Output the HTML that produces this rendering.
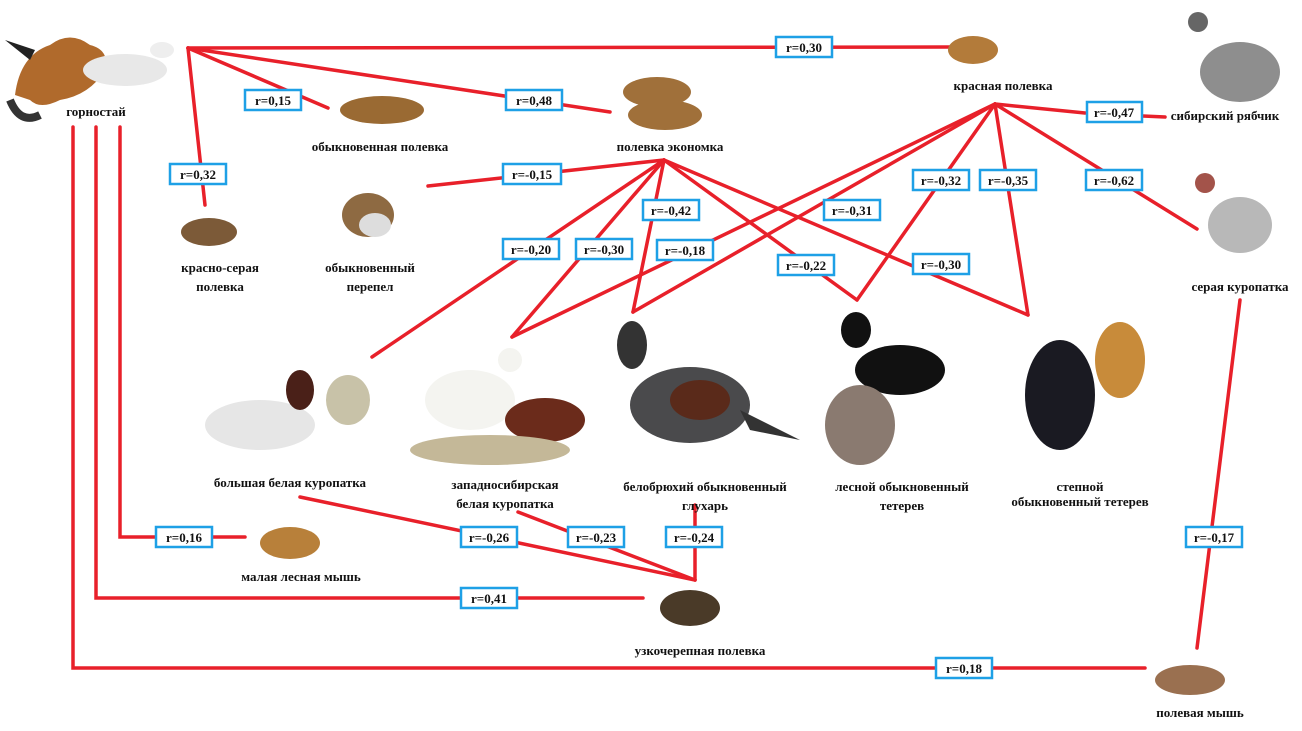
<!DOCTYPE html>
<html><head><meta charset="utf-8"><style>
html,body{margin:0;padding:0;background:#fff;width:1302px;height:731px;overflow:hidden}
svg{display:block}
text{font-family:"Liberation Serif","Noto Serif CJK SC",serif;font-weight:bold;font-size:13px;fill:#111}
.b text{font-size:14px}
</style></head><body>
<svg width="1302" height="731" viewBox="0 0 1302 731" xmlns="http://www.w3.org/2000/svg">
<g stroke="#e8202a" stroke-width="3.5" fill="none" stroke-linecap="round">
<line x1="188" y1="48" x2="950" y2="47"/>
<line x1="188" y1="48" x2="328" y2="108"/>
<line x1="188" y1="48" x2="610" y2="112"/>
<line x1="188" y1="48" x2="205" y2="205"/>
<polyline points="120,127 120,537 245,537"/>
<polyline points="96,127 96,598 643,598"/>
<polyline points="73,127 73,668 1145,668"/>
<line x1="664" y1="160" x2="428" y2="186"/>
<line x1="664" y1="160" x2="372" y2="357"/>
<line x1="664" y1="160" x2="512" y2="337"/>
<line x1="664" y1="160" x2="633" y2="312"/>
<line x1="664" y1="160" x2="857" y2="300"/>
<line x1="664" y1="160" x2="1028" y2="315"/>
<line x1="995" y1="104" x2="512" y2="337"/>
<line x1="995" y1="104" x2="633" y2="312"/>
<line x1="995" y1="104" x2="857" y2="300"/>
<line x1="995" y1="104" x2="1028" y2="315"/>
<line x1="995" y1="104" x2="1197" y2="229"/>
<line x1="995" y1="104" x2="1085" y2="113"/>
<line x1="1142" y1="116" x2="1165" y2="117"/>
<line x1="300" y1="497" x2="695" y2="580"/>
<line x1="518" y1="512" x2="695" y2="580"/>
<line x1="695" y1="505" x2="695" y2="580"/>
<line x1="1240" y1="300" x2="1197" y2="648"/>
</g>
<!-- animals -->
<g>
<path d="M15 95 Q20 55 50 45 Q70 30 90 45 Q110 50 105 70 Q90 95 60 100 Q40 110 30 100Z" fill="#b06a2c"/>
<path d="M5 40 L35 50 L30 60 Z" fill="#222"/>
<path d="M10 100 Q20 125 40 115" stroke="#333" stroke-width="8" fill="none"/>
<ellipse cx="125" cy="70" rx="42" ry="16" fill="#e8e8e8"/>
<ellipse cx="162" cy="50" rx="12" ry="8" fill="#eee"/>
<ellipse cx="973" cy="50" rx="25" ry="14" fill="#b37b3a"/>
<ellipse cx="382" cy="110" rx="42" ry="14" fill="#9a6a33"/>
<ellipse cx="657" cy="92" rx="34" ry="15" fill="#a0703a"/>
<ellipse cx="665" cy="115" rx="37" ry="15" fill="#a0703a"/>
<ellipse cx="209" cy="232" rx="28" ry="14" fill="#7c5a38"/>
<ellipse cx="368" cy="215" rx="26" ry="22" fill="#8e6a42"/>
<ellipse cx="375" cy="225" rx="16" ry="12" fill="#ddd"/>
<ellipse cx="1240" cy="72" rx="40" ry="30" fill="#8e8e8e"/>
<ellipse cx="1198" cy="22" rx="10" ry="10" fill="#666"/>
<ellipse cx="1240" cy="225" rx="32" ry="28" fill="#b8b8b8"/>
<ellipse cx="1205" cy="183" rx="10" ry="10" fill="#a3534a"/>
<ellipse cx="260" cy="425" rx="55" ry="25" fill="#e6e6e6"/>
<ellipse cx="300" cy="390" rx="14" ry="20" fill="#4a2018"/>
<ellipse cx="348" cy="400" rx="22" ry="25" fill="#c8c2a8"/>
<ellipse cx="470" cy="400" rx="45" ry="30" fill="#f4f4f0"/>
<ellipse cx="510" cy="360" rx="12" ry="12" fill="#f4f4f0"/>
<ellipse cx="545" cy="420" rx="40" ry="22" fill="#6b2b1b"/>
<ellipse cx="490" cy="450" rx="80" ry="15" fill="#c4b898"/>
<ellipse cx="690" cy="405" rx="60" ry="38" fill="#4a4a4c"/>
<ellipse cx="700" cy="400" rx="30" ry="20" fill="#5a2a1a"/>
<ellipse cx="632" cy="345" rx="15" ry="24" fill="#333"/>
<path d="M740 410 L800 440 L750 430Z" fill="#333"/>
<ellipse cx="900" cy="370" rx="45" ry="25" fill="#111"/>
<ellipse cx="856" cy="330" rx="15" ry="18" fill="#111"/>
<ellipse cx="860" cy="425" rx="35" ry="40" fill="#8a7a70"/>
<ellipse cx="1060" cy="395" rx="35" ry="55" fill="#1a1a22"/>
<ellipse cx="1120" cy="360" rx="25" ry="38" fill="#c88b3a"/>
<ellipse cx="290" cy="543" rx="30" ry="16" fill="#b8803a"/>
<ellipse cx="690" cy="608" rx="30" ry="18" fill="#4a3a28"/>
<ellipse cx="1190" cy="680" rx="35" ry="15" fill="#9a7050"/>
</g>
<!-- names -->
<g text-anchor="middle">
<text x="96" y="116">горностай</text>
<text x="1003" y="90">красная полевка</text>
<text x="1225" y="120">сибирский рябчик</text>
<text x="380" y="151">обыкновенная полевка</text>
<text x="670" y="151">полевка экономка</text>
<text x="220" y="272">красно-серая</text>
<text x="220" y="291">полевка</text>
<text x="370" y="272">обыкновенный</text>
<text x="370" y="291">перепел</text>
<text x="1240" y="291">серая куропатка</text>
<text x="290" y="487">большая белая куропатка</text>
<text x="505" y="489">западносибирская</text>
<text x="505" y="508">белая куропатка</text>
<text x="705" y="491">белобрюхий обыкновенный</text>
<text x="705" y="510">глухарь</text>
<text x="902" y="491">лесной обыкновенный</text>
<text x="902" y="510">тетерев</text>
<text x="1080" y="491">степной</text>
<text x="1080" y="506">обыкновенный тетерев</text>
<text x="301" y="581">малая лесная мышь</text>
<text x="700" y="655">узкочерепная полевка</text>
<text x="1200" y="717">полевая мышь</text>
</g>
<!-- boxes -->
<g class="b" text-anchor="middle">
<g id="bx"></g>
</g>
<g fill="#fff" stroke="#1ea0e6" stroke-width="2.5">
<rect x="776" y="37" width="56" height="20"/>
<rect x="245" y="90" width="56" height="20"/>
<rect x="506" y="90" width="56" height="20"/>
<rect x="170" y="164" width="56" height="20"/>
<rect x="503" y="164" width="58" height="20"/>
<rect x="643" y="200" width="56" height="20"/>
<rect x="824" y="200" width="56" height="20"/>
<rect x="913" y="170" width="56" height="20"/>
<rect x="980" y="170" width="56" height="20"/>
<rect x="1086" y="170" width="56" height="20"/>
<rect x="1087" y="102" width="55" height="20"/>
<rect x="503" y="239" width="56" height="20"/>
<rect x="576" y="239" width="56" height="20"/>
<rect x="657" y="240" width="56" height="20"/>
<rect x="778" y="255" width="56" height="20"/>
<rect x="913" y="254" width="56" height="20"/>
<rect x="156" y="527" width="56" height="20"/>
<rect x="461" y="527" width="56" height="20"/>
<rect x="568" y="527" width="56" height="20"/>
<rect x="666" y="527" width="56" height="20"/>
<rect x="461" y="588" width="56" height="20"/>
<rect x="1186" y="527" width="56" height="20"/>
<rect x="936" y="658" width="56" height="20"/>
</g>
<g text-anchor="middle" style="font-size:14px">
<text x="804" y="52" font-size="14">r=0,30</text>
<text x="273" y="105" font-size="14">r=0,15</text>
<text x="534" y="105" font-size="14">r=0,48</text>
<text x="198" y="179" font-size="14">r=0,32</text>
<text x="532" y="179" font-size="14">r=-0,15</text>
<text x="671" y="215" font-size="14">r=-0,42</text>
<text x="852" y="215" font-size="14">r=-0,31</text>
<text x="941" y="185" font-size="14">r=-0,32</text>
<text x="1008" y="185" font-size="14">r=-0,35</text>
<text x="1114" y="185" font-size="14">r=-0,62</text>
<text x="1114" y="117" font-size="14">r=-0,47</text>
<text x="531" y="254" font-size="14">r=-0,20</text>
<text x="604" y="254" font-size="14">r=-0,30</text>
<text x="685" y="255" font-size="14">r=-0,18</text>
<text x="806" y="270" font-size="14">r=-0,22</text>
<text x="941" y="269" font-size="14">r=-0,30</text>
<text x="184" y="542" font-size="14">r=0,16</text>
<text x="489" y="542" font-size="14">r=-0,26</text>
<text x="596" y="542" font-size="14">r=-0,23</text>
<text x="694" y="542" font-size="14">r=-0,24</text>
<text x="489" y="603" font-size="14">r=0,41</text>
<text x="1214" y="542" font-size="14">r=-0,17</text>
<text x="964" y="673" font-size="14">r=0,18</text>
</g>
</svg>
</body></html>
